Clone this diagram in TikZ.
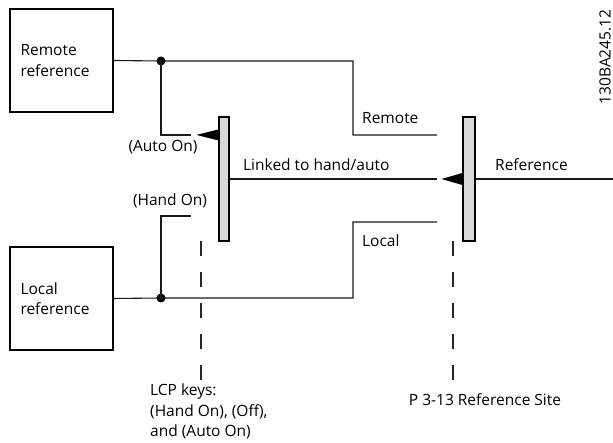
\documentclass[tikz,border=0pt]{standalone}
\usepackage{fontspec}
\setsansfont{Open Sans}
\usetikzlibrary{positioning,calc}

\begin{document}
\begin{tikzpicture}[
    x=1pt, y=-1pt,
    font=\fontsize{15.5}{20.5}\selectfont\sffamily,
    refbox/.style={draw, line width=1.1pt, align=left, text width=82pt, inner xsep=10.5pt, minimum height=103pt},
    switchbar/.style={draw, line width=1.1pt, fill=gray!30, inner sep=0pt, minimum width=10pt, minimum height=124pt},
    joint/.style={circle, fill=black, inner sep=0pt, minimum size=9pt},
    line/.style={line width=1.1pt, draw=black!90},
    keyline/.style={line width=1.1pt, draw=black!85, dash pattern=on 15pt off 16pt},
    labelstyle/.style={inner sep=0pt}
]
    \useasboundingbox (0,0) rectangle (613,443);

    % Node placement
    \node[refbox] (remote) at (61.5,60.5) {Remote\\reference};
    \node[refbox] (local) at (61.5,298.5) {Local\\reference};
    \node[joint] (rdot) at (161,61) {};
    \node[joint] (ldot) at (161,298) {};
    \node[switchbar] (autobar) at (224,179) {};
    \node[switchbar, minimum width=12pt] (sitebar) at (469,179) {};

    % Free ends of the lines
    \coordinate (autoin) at (191,135);
    \coordinate (handin) at (191,216);
    \coordinate (remin) at (437,135);
    \coordinate (locin) at (437,222);
    \coordinate (linkin) at (437,179);
    \coordinate (refout) at (613,179);

    % Connections
    \draw[line] (remote.east) -- (rdot.center) -| ($(remin)+(-84,0)$) -- (remin);
    \draw[line] (rdot.center) |- (autoin);
    \draw[line] (local.east) -- (ldot.center) -| ($(locin)+(-84,0)$) -- (locin);
    \draw[line] (ldot.center) |- (handin);
    \draw[line] (autobar.east) -- (linkin);
    \draw[line] (sitebar.east) -- (refout);

    % Switch pointers
    \fill[black] ($(autobar.north west)+(0,13)$) -- ++(-22,5.5) -- ++(22,5.5) -- cycle;
    \fill[black] ($(sitebar.west)+(0,-6)$) -- ++(-21,6) -- ++(21,6) -- cycle;

    % Labels
    \node[labelstyle] (autolbl) at (163,147) {(Auto On)};
    \node[labelstyle] (handlbl) at (170,201) {(Hand On)};
    \node[labelstyle, anchor=west] (linklbl) at (243,165) {Linked to hand/auto};
    \node[labelstyle, anchor=west] (remlbl) at (362,118) {Remote};
    \node[labelstyle, anchor=west] (loclbl) at (362,241) {Local};
    \node[labelstyle, anchor=west] (reflbl) at (495,165) {Reference};
    \node[labelstyle, rotate=90] (figid) at (605,57) {130BA245.12};
    \node[labelstyle, anchor=north west, align=left] (lcp) at (150,384) {LCP keys:\\(Hand On), (Off),\\and (Auto On)};
    \node[labelstyle] (site) at (485,400) {P 3-13 Reference Site};

    % Key lines
    \draw[keyline] (201,241) -- (201,380);
    \draw[keyline] (453,241) -- (453,380);

\end{tikzpicture}
\end{document}
